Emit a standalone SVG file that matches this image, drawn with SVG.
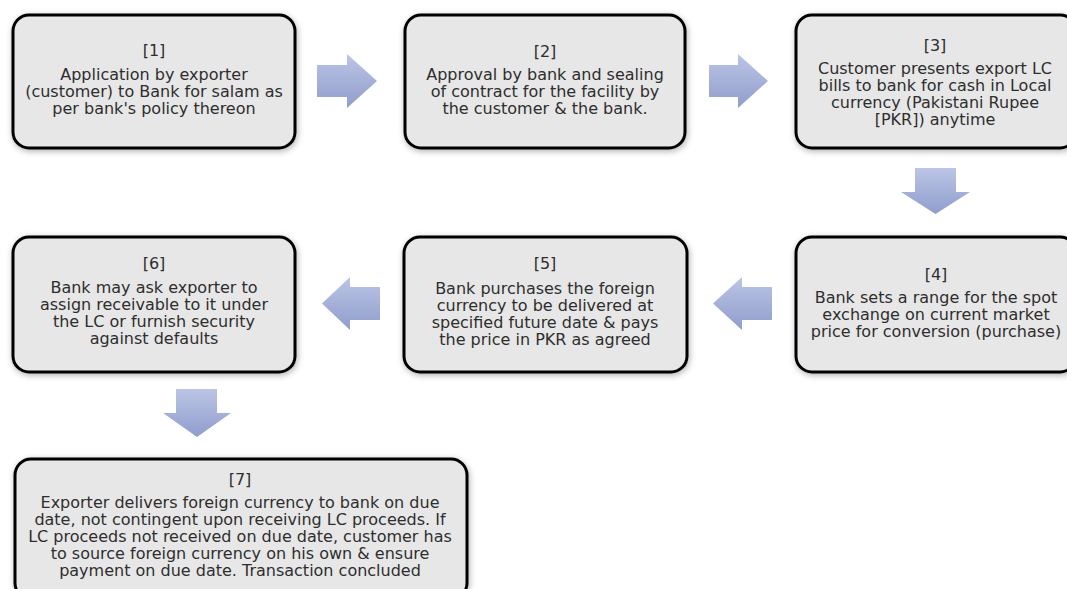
<svg xmlns="http://www.w3.org/2000/svg" width="1067" height="589" viewBox="0 0 1067 589">
<style>
.box{fill:#e7e7e7;stroke:#000;stroke-width:3;filter:url(#sh)}
.t{font-family:"DejaVu Sans","Open Sans",sans-serif;font-size:16px;fill:#2e2e2e;text-anchor:middle}
.arr{fill:url(#g)}
</style>
<defs>
<filter id="sh" x="-10%" y="-10%" width="120%" height="130%">
<feDropShadow dx="1" dy="2" stdDeviation="3" flood-color="#000" flood-opacity="0.3"/>
</filter>
<linearGradient id="g" x1="0" y1="0" x2="0" y2="1">
<stop offset="0" stop-color="#bcc5e6"/>
<stop offset="1" stop-color="#909dcc"/>
</linearGradient>
</defs>
<rect width="1067" height="589" fill="#fff"/>
<g id="connectors">
<polygon class="arr" points="317,65 347,65 347,54 377,81 347,108 347,97 317,97"/>
<polygon class="arr" points="709,65 738,65 738,54 768,81 738,108 738,97 709,97"/>
<polygon class="arr" points="915,168 956,168 956,192 970,192 935.5,214 901,192 915,192"/>
<polygon class="arr" points="772,287 742,287 742,277 713,303.5 742,330 742,320 772,320"/>
<polygon class="arr" points="380,287 350,287 350,277 322,303.5 350,330 350,320 380,320"/>
<polygon class="arr" points="176,389 217,389 217,413 231,413 197,437 163,413 176,413"/>
</g>
<g id="node1">
<rect class="box" x="13" y="15" width="282" height="133" rx="16"/>
<text class="t" x="154" y="56">[1]</text>
<text class="t" x="154" y="80">Application by exporter</text>
<text class="t" x="154" y="97">(customer) to Bank for salam as</text>
<text class="t" x="154" y="114">per bank's policy thereon</text>
</g>
<g id="node2">
<rect class="box" x="405" y="15" width="280" height="133" rx="16"/>
<text class="t" x="545" y="57">[2]</text>
<text class="t" x="545" y="80">Approval by bank and sealing</text>
<text class="t" x="545" y="97">of contract for the facility by</text>
<text class="t" x="545" y="114">the customer &amp; the bank.</text>
</g>
<g id="node3">
<rect class="box" x="796" y="15" width="280" height="133" rx="16"/>
<text class="t" x="935" y="51">[3]</text>
<text class="t" x="935" y="74">Customer presents export LC</text>
<text class="t" x="935" y="91">bills to bank for cash in Local</text>
<text class="t" x="935" y="108">currency (Pakistani Rupee</text>
<text class="t" x="935" y="125">[PKR]) anytime</text>
</g>
<g id="node4">
<rect class="box" x="796" y="237" width="280" height="135" rx="16"/>
<text class="t" x="936" y="280">[4]</text>
<text class="t" x="936" y="303">Bank sets a range for the spot</text>
<text class="t" x="936" y="320">exchange on current market</text>
<text class="t" x="936" y="337">price for conversion (purchase)</text>
</g>
<g id="node5">
<rect class="box" x="404" y="237" width="283" height="135" rx="16"/>
<text class="t" x="545" y="269">[5]</text>
<text class="t" x="545" y="294">Bank purchases the foreign</text>
<text class="t" x="545" y="311">currency to be delivered at</text>
<text class="t" x="545" y="328">specified future date &amp; pays</text>
<text class="t" x="545" y="345">the price in PKR as agreed</text>
</g>
<g id="node6">
<rect class="box" x="13" y="237" width="282" height="135" rx="16"/>
<text class="t" x="154" y="269">[6]</text>
<text class="t" x="154" y="293">Bank may ask exporter to</text>
<text class="t" x="154" y="310">assign receivable to it under</text>
<text class="t" x="154" y="327">the LC or furnish security</text>
<text class="t" x="154" y="344">against defaults</text>
</g>
<g id="node7">
<rect class="box" x="15" y="459" width="452" height="140" rx="16"/>
<text class="t" x="240" y="485">[7]</text>
<text class="t" x="240" y="508">Exporter delivers foreign currency to bank on due</text>
<text class="t" x="240" y="525">date, not contingent upon receiving LC proceeds. If</text>
<text class="t" x="240" y="542">LC proceeds not received on due date, customer has</text>
<text class="t" x="240" y="559">to source foreign currency on his own &amp; ensure</text>
<text class="t" x="240" y="576">payment on due date. Transaction concluded</text>
</g>
</svg>
